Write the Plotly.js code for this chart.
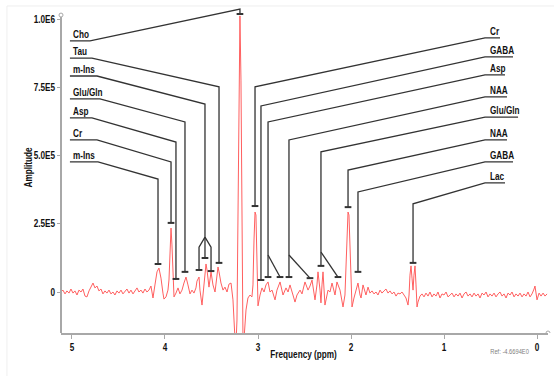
<!DOCTYPE html>
<html><head><meta charset="utf-8">
<script src="https://cdn.plot.ly/plotly-3.0.1.min.js"></script>
<style>html,body{margin:0;padding:0;background:#fff}#chart{width:554px;height:376px}</style>
</head><body><div id="chart"></div>
<script>
// ---- spectrum (frequency in ppm, amplitude in thousands) ----
const ppm = [5.118,5.097,5.075,5.054,5.032,5.011,4.989,4.968,4.946,4.925,4.903,4.882,4.860,4.839,4.817,4.796,4.774,4.753,4.731,4.710,
4.688,4.667,4.645,4.624,4.602,4.581,4.559,4.538,4.516,4.495,4.473,4.452,4.430,4.409,4.387,4.366,4.344,4.323,4.301,4.280,
4.258,4.237,4.215,4.194,4.172,4.151,4.129,4.108,4.086,4.065,4.043,4.022,4.011,3.989,3.968,3.957,3.946,3.935,3.925,3.914,
3.903,3.882,3.860,3.839,3.817,3.796,3.774,3.753,3.731,3.710,3.688,3.667,3.656,3.634,3.624,3.602,3.581,3.559,3.548,3.527,
3.505,3.484,3.462,3.441,3.430,3.419,3.398,3.376,3.355,3.333,3.312,3.290,3.269,3.247,3.237,3.226,3.215,3.204,3.194,3.183,
3.172,3.161,3.151,3.129,3.108,3.086,3.065,3.054,3.043,3.032,3.022,3.011,3.000,2.978,2.957,2.935,2.914,2.892,2.871,2.849,
2.817,2.796,2.763,2.731,2.699,2.677,2.656,2.624,2.602,2.581,2.548,2.527,2.495,2.462,2.441,2.419,2.387,2.366,2.355,2.333,
2.323,2.312,2.301,2.280,2.258,2.247,2.226,2.204,2.172,2.151,2.118,2.086,2.065,2.054,2.043,2.032,2.022,2.011,2.000,1.989,
1.968,1.946,1.925,1.903,1.892,1.871,1.849,1.839,1.817,1.796,1.774,1.753,1.731,1.710,1.688,1.667,1.645,1.624,1.602,1.581,
1.559,1.538,1.516,1.495,1.473,1.452,1.430,1.409,1.387,1.376,1.366,1.355,1.344,1.333,1.323,1.312,1.301,1.290,1.280,1.258,
1.237,1.215,1.194,1.172,1.151,1.129,1.108,1.086,1.065,1.043,1.022,1.000,0.978,0.957,0.935,0.914,0.892,0.871,0.849,0.828,
0.806,0.785,0.763,0.742,0.720,0.699,0.677,0.656,0.634,0.613,0.591,0.570,0.548,0.527,0.505,0.484,0.462,0.441,0.419,0.398,
0.376,0.355,0.333,0.312,0.290,0.269,0.247,0.226,0.204,0.183,0.161,0.140,0.118,0.097,0.075,0.054,0.032,0.022,0.000,-0.022,
-0.043,-0.065,-0.086,-0.108];
const amplitudeK = [0,7,-7,4,-4,11,-4,4,-11,7,0,11,-15,-18,4,18,33,15,22,4,
11,-7,4,-4,7,-7,0,-11,4,-4,7,-7,4,11,-4,7,-7,4,15,0,
7,-4,11,0,7,22,-22,26,74,88,51,-4,-26,-18,7,44,173,235,173,44,
-18,-4,15,-7,7,33,55,26,-7,7,-4,15,40,55,7,-48,26,103,81,18,
74,26,0,62,92,74,33,7,18,0,29,33,-29,-176,-195,-103,338,853,1015,779,
154,-195,-176,-66,-22,-11,-18,26,191,294,283,118,-51,-11,15,0,26,37,0,7,
-29,7,37,-11,15,0,26,-11,-37,-11,7,-7,37,7,22,44,-29,26,74,7,
-40,26,74,-48,-11,7,0,33,-11,37,7,-55,-11,81,228,294,283,154,-11,-55,
-22,7,33,-11,-22,26,-4,-11,18,-4,4,-7,0,-11,7,-4,4,11,-4,4,
-7,0,-15,-4,-7,0,-11,-22,-48,-11,62,96,51,7,62,96,26,-55,-37,-15,
-7,-18,-4,-15,0,-18,-7,-15,0,-22,-7,-11,0,-18,-11,-4,-18,-7,-15,-4,
-22,-7,0,-15,-7,-18,-4,-15,-7,-22,-4,-11,0,-18,-7,-15,-4,-18,-7,0,
-15,-7,-22,-4,-11,0,-18,-7,-15,-4,-18,-7,-15,0,-18,-7,11,22,-29,-4,
-15,-4,-15,-7];

// ---- axes ----
const xTickVals = [5,4,3,2,1,0];
const xTickText = ['5','4','3','2','1','0'];
const yTickVals = [0,250000,500000,750000,1000000];
const yTickText = ['0','2.5E5','5.0E5','7.5E5','1.0E6'];

// ---- metabolite callouts ----
const leftLabels  = ['Cho','Tau','m-Ins','Glu/Gln','Asp','Cr','m-Ins'];
const rightLabels = ['Cr','GABA','Asp','NAA','Glu/Gln','NAA','GABA','Lac'];
// marker bars above the peaks: [ppm, amplitude k]
const leftMarks = [
  [[3.194,1022]],
  [[3.419,107]],
  [[3.570,125],[3.634,81],[3.505,77]],
  [[3.785,74]],
  [[3.882,48]],
  [[3.935,254]],
  [[4.075,103]]
];
const rightMarks = [
  [[3.032,316]],
  [[2.968,44]],
  [[2.892,55],[2.763,55]],
  [[2.667,55],[2.441,51]],
  [[2.323,96],[2.140,55]],
  [[2.032,312]],
  [[1.925,74]],
  [[1.333,107]]
];

// leader geometry (layout): underline level, underline end, elbow, fork level
const leftGeo = [
  {ul:923, end:4.806, elbow:[3.194,1040]},
  {ul:860, end:4.785, elbow:[3.419,754]},
  {ul:794, end:4.731, elbow:[3.570,691], fork:202, forkDrop:165},
  {ul:710, end:4.699, elbow:[3.785,625]},
  {ul:640, end:4.785, elbow:[3.882,551]},
  {ul:559, end:4.731, elbow:[3.935,478]},
  {ul:478, end:4.720, elbow:[4.075,415]}
];
const rightGeo = [
  {ul:934, end:0.398, elbow:[3.032,754]},
  {ul:864, end:0.258, elbow:[2.968,684]},
  {ul:798, end:0.344, elbow:[2.892,625], fork:136},
  {ul:717, end:0.323, elbow:[2.667,559], fork:136},
  {ul:643, end:0.204, elbow:[2.323,515], fork:147},
  {ul:559, end:0.323, elbow:[2.032,448]},
  {ul:478, end:0.258, elbow:[1.925,368]},
  {ul:401, end:0.344, elbow:[1.333,324]}
];
const leftStart = 5.022, leftText = 5.011;
const rightStart = 0.559, rightText = 0.527;
const barHalf = 0.036;

const K = 1000;
const lx = [], ly = [], bx = [], by = [];
function seg(pts){ pts.forEach(p=>{lx.push(p[0]); ly.push(p[1]*K);}); lx.push(null); ly.push(null); }
function bar(p){ bx.push(p[0]-barHalf, p[0]+barHalf, null); by.push(p[1]*K, p[1]*K, null); }

const annotations = [];
const FAM = 'Liberation Sans Narrow, Arial Narrow, Liberation Sans, Arial, sans-serif';
const labFont = {family:FAM, size:10, color:'#111', weight:'bold'};

leftLabels.forEach((lab,i)=>{
  const g = leftGeo[i], m = leftMarks[i];
  seg([[leftStart,g.ul],[g.end,g.ul],g.elbow,[g.elbow[0],m[0][1]]]);
  if (g.fork !== undefined) {
    for (let j=1;j<m.length;j++) seg([[g.elbow[0],g.fork],[m[j][0],g.forkDrop],m[j]]);
  }
  m.forEach(bar);
  annotations.push({x:leftText, y:g.ul*K, xref:'x', yref:'y', text:lab, showarrow:false, xanchor:'left', yanchor:'bottom', align:'left', yshift:-1, font:labFont, name:'lab'});
});
rightLabels.forEach((lab,i)=>{
  const g = rightGeo[i], m = rightMarks[i];
  seg([[g.end,g.ul],[rightStart,g.ul],g.elbow,[g.elbow[0],m[0][1]]]);
  if (g.fork !== undefined) {
    for (let j=1;j<m.length;j++) seg([[g.elbow[0],g.fork],m[j]]);
  }
  m.forEach(bar);
  annotations.push({x:rightText, y:g.ul*K, xref:'x', yref:'y', text:lab, showarrow:false, xanchor:'left', yanchor:'bottom', align:'left', yshift:-1, font:labFont, name:'lab'});
});

annotations.push({xref:'paper', yref:'paper', x:0.497, y:-0.067, text:'Frequency (ppm)', showarrow:false, xanchor:'center', yanchor:'middle', font:labFont, name:'mid'});
annotations.push({xref:'paper', yref:'paper', x:-0.068, y:0.506, text:'Amplitude', textangle:-90, showarrow:false, xanchor:'center', yanchor:'middle', font:labFont, name:'mid'});
annotations.push({xref:'paper', yref:'paper', x:0.920, y:-0.055, text:'Ref: -4.6694E0', showarrow:false, xanchor:'center', yanchor:'middle', font:{family:FAM, size:7, color:'#808080'}, name:'mid'});

const spectrum = {x:ppm, y:amplitudeK.map(v=>v*K), type:'scatter', mode:'lines', line:{color:'rgb(255,95,95)', width:1}, hoverinfo:'skip'};
const leaders = {x:lx, y:ly, type:'scatter', mode:'lines', line:{color:'#333', width:1.3}, hoverinfo:'skip'};
const bars = {x:bx, y:by, type:'scatter', mode:'lines', line:{color:'#333', width:2}, hoverinfo:'skip'};

const axisGray = '#a8a8a8';
const yTop = 1018000, yBot = -150700;
const layout = {
  width:554, height:376,
  margin:{l:61, r:6, t:5, b:43},
  paper_bgcolor:'#fff', plot_bgcolor:'#fff',
  showlegend:false,
  xaxis:{range:[5.118,-0.118], tickvals:xTickVals, ticktext:xTickText, ticks:'outside', ticklen:4, tickcolor:axisGray, tickwidth:1,
         showline:true, linecolor:axisGray, linewidth:2, showgrid:false, zeroline:false, tickfont:labFont},
  yaxis:{range:[yBot,1055000], tickvals:yTickVals, ticktext:yTickText, ticks:'outside', ticklen:3, tickcolor:axisGray, tickwidth:1,
         showline:false, showgrid:false, zeroline:false, tickfont:labFont},
  shapes:[
    {type:'line', xref:'paper', yref:'paper', x0:-0.111, x1:1.02, y0:0.997, y1:0.997, line:{color:'#efefef', width:1}},
    {type:'line', xref:'paper', yref:'paper', x0:-0.111, x1:-0.111, y0:0.997, y1:-0.14, line:{color:'#efefef', width:1}},
    {type:'line', xref:'paper', yref:'y', x0:0, x1:0, y0:yBot, y1:yTop, line:{color:axisGray, width:2}},
    {type:'circle', xref:'paper', yref:'y', xsizemode:'pixel', ysizemode:'pixel', xanchor:0, yanchor:yTop, x0:-2, x1:2, y0:-2, y1:2, line:{color:axisGray, width:1}, fillcolor:'#fff'},
    {type:'circle', xref:'paper', yref:'y', xsizemode:'pixel', ysizemode:'pixel', xanchor:1, yanchor:yBot, x0:-2, x1:2, y0:-2, y1:2, line:{color:axisGray, width:1}, fillcolor:'#fff'}
  ],
  annotations:annotations
};

// narrow the (wide) fallback font horizontally to the narrow face of the original
function squeeze(el, s, mode){
  const b = el.getBBox();
  const p = mode==='left' ? b.x : (mode==='right' ? b.x + b.width : b.x + b.width/2);
  const t = el.getAttribute('transform') || '';
  el.setAttribute('transform', t + ' translate(' + p + ',0) scale(' + s + ',1) translate(' + (-p) + ',0)');
}
Plotly.newPlot('chart', [spectrum, leaders, bars], layout, {staticPlot:true, displayModeBar:false}).then(gd=>{
  const S = 0.82;
  const anns = gd.querySelectorAll('.annotation-text');
  anns.forEach((el,i)=>{ squeeze(el, S, annotations[i] && annotations[i].name==='lab' ? 'left' : 'center'); });
  gd.querySelectorAll('.xtick text').forEach(el=>squeeze(el, S, 'center'));
  gd.querySelectorAll('.ytick text').forEach(el=>squeeze(el, S, 'right'));
});
</script></body></html>
